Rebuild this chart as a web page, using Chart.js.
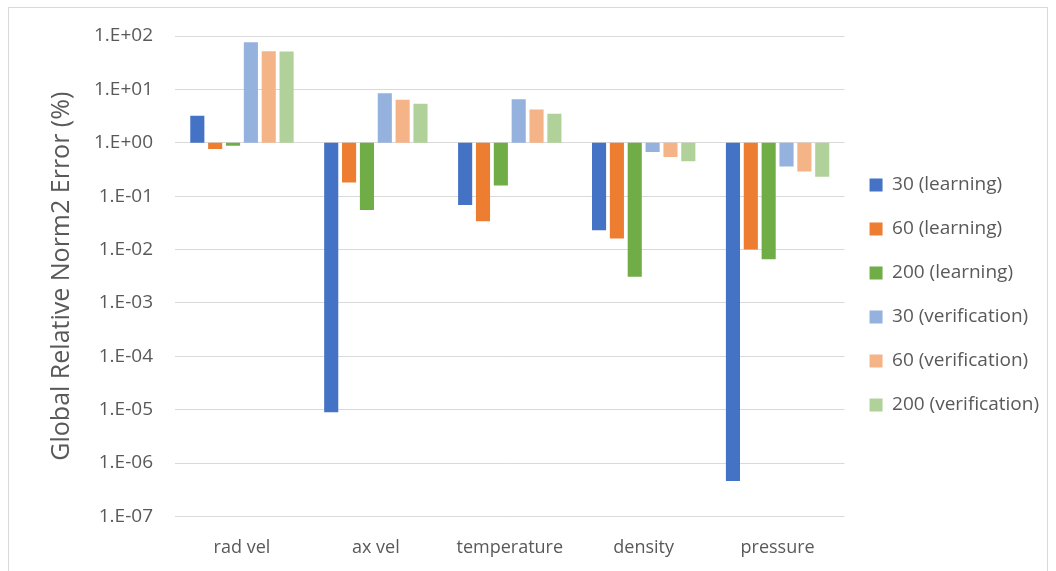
<!DOCTYPE html>
<html>
<head>
<meta charset="utf-8">
<script src="https://cdn.jsdelivr.net/npm/chart.js@4/dist/chart.umd.min.js"></script>
<style>
  html, body { margin: 0; padding: 0; background: #fff; }
  #box {
    position: absolute; left: 8px; top: 7px;
    width: 1040px; height: 570px;
    border: 1px solid #d9d9d9; box-sizing: border-box;
  }
  #box canvas { display: block; }
</style>
</head>
<body>
<div id="box"><canvas id="errChart" width="1038" height="568"></canvas></div>
<script>
// variables on the x axis
const categories = ['rad vel', 'ax vel', 'temperature', 'density', 'pressure'];

// error values in %, bars grow from 1.E+00
const learn30  = [3.2, 8.9e-6, 0.068, 0.023, 4.6e-7];
const learn60  = [0.76, 0.18, 0.034, 0.016, 0.010];
const learn200 = [0.88, 0.055, 0.158, 0.0031, 0.0066];
const verif30  = [76, 8.5, 6.5, 0.67, 0.36];
const verif60  = [52, 6.4, 4.2, 0.54, 0.29];
const verif200 = [51, 5.4, 3.5, 0.45, 0.23];

const tickExp = [2, 1, 0, -1, -2, -3, -4, -5, -6, -7];

const seriesNames = ['30 (learning)', '60 (learning)', '200 (learning)',
                     '30 (verification)', '60 (verification)', '200 (verification)'];
const seriesData = [learn30, learn60, learn200, verif30, verif60, verif200];
const seriesColors = ['#4472C4', '#ED7D31', '#70AD47', '#95B1DE', '#F4B488', '#B0D19A'];

const yTitleText = 'Global Relative Norm2 Error (%)';
const fontFam = '"Open Sans", Lato, sans-serif';

function fmtExp(v) {
  const e = Math.round(Math.log10(v));
  const s = e < 0 ? '-' : '+';
  return '1.E' + s + String(Math.abs(e)).padStart(2, '0');
}

const datasets = seriesNames.map((name, i) => ({
  label: name,
  data: seriesData[i].map(v => [1, v]),
  backgroundColor: seriesColors[i],
  borderWidth: 0,
  categoryPercentage: 0.8,
  barPercentage: 0.79
}));

// rotated y axis title, centred on the plot area
const yTitlePlugin = {
  id: 'yTitle',
  afterDraw(chart) {
    const a = chart.chartArea;
    const c = chart.ctx;
    c.save();
    c.translate(53, (a.top + a.bottom) / 2);
    c.rotate(-Math.PI / 2);
    c.font = '25px ' + fontFam;
    c.fillStyle = '#595959';
    c.textAlign = 'center';
    c.textBaseline = 'middle';
    c.fillText(yTitleText, 0, 0);
    c.restore();
  }
};

// tighten the gap between the plot area and the legend, nudge it up a bit
const legendTrim = {
  id: 'legendTrim',
  beforeUpdate(chart) {
    const lg = chart.legend;
    if (lg && !lg._trimmed) {
      const fit = lg.fit;
      lg.fit = function () { fit.call(this); this.width -= 8; };
      lg._trimmed = true;
    }
  },
  afterLayout(chart) {
    const lg = chart.legend;
    if (lg) { lg.top -= 9; lg.bottom -= 9; }
  }
};

var ctx = document.getElementById('errChart').getContext('2d');
var errChart = new Chart(ctx, {
  type: 'bar',
  data: { labels: categories, datasets: datasets },
  plugins: [yTitlePlugin, legendTrim],
  options: {
    responsive: false,
    animation: false,
    layout: { padding: { top: 28, right: 6, bottom: 4, left: 0 } },
    plugins: {
      tooltip: { enabled: false },
      legend: {
        position: 'right',
        labels: {
          boxWidth: 13, boxHeight: 13,
          padding: 25,
          color: '#595959',
          font: { family: fontFam, size: 19 }
        }
      }
    },
    scales: {
      x: {
        grid: { display: false },
        border: { display: false },
        ticks: { color: '#595959', font: { family: fontFam, size: 18 }, padding: 13 }
      },
      y: {
        type: 'logarithmic',
        min: 1e-7, max: 1e2,
        afterBuildTicks: (scale) => {
          scale.ticks = tickExp.map(e => ({ value: Math.pow(10, e) }));
        },
        afterFit: (scale) => { scale.width = 166; },
        grid: {
          color: '#d9d9d9', lineWidth: 1,
          drawTicks: true, tickLength: 16, tickColor: 'rgba(0,0,0,0)'
        },
        border: { display: false },
        ticks: {
          color: '#595959', padding: 6,
          font: { family: fontFam, size: 19 },
          callback: (v) => fmtExp(v)
        }
      }
    }
  }
});
</script>
</body>
</html>
